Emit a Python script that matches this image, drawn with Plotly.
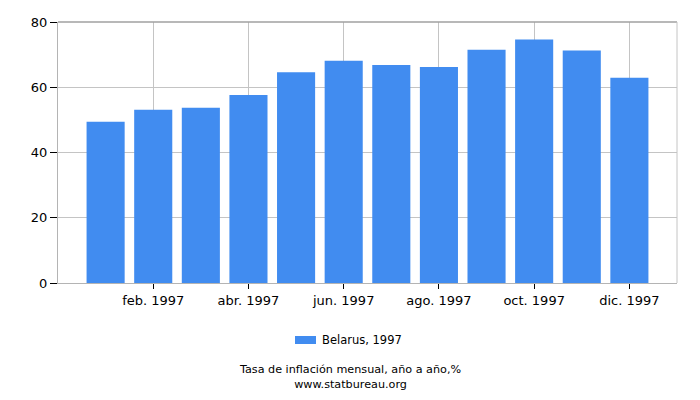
import plotly.graph_objects as go

# ── data ──
months = ["ene. 1997", "feb. 1997", "mar. 1997", "abr. 1997", "may. 1997", "jun. 1997",
          "jul. 1997", "ago. 1997", "sep. 1997", "oct. 1997", "nov. 1997", "dic. 1997"]
inflation = [49.4, 53.1, 53.7, 57.6, 64.6, 68.1, 66.8, 66.2, 71.5, 74.6, 71.3, 62.9]
series_name = "Belarus, 1997"
y_ticks = [0, 20, 40, 60, 80]

FONT = "DejaVu Sans, Verdana, sans-serif"
BAR = "#418cf0"
GRID = "#c4c4c4"
AXIS = "#b4b4b4"

# plot box in pixels: x 58..677, y 22..283
PX_L, PX_R, PX_T, PX_B = 58, 677, 22, 283


def px_x(px):
    return (px - PX_L) / (PX_R - PX_L)


def px_y(py):
    return (PX_B - py) / (PX_B - PX_T)


fig = go.Figure()
fig.add_trace(go.Bar(
    x=months,
    y=inflation,
    name=series_name,
    marker=dict(color=BAR, line=dict(width=0)),
    showlegend=False,
))

fig.update_xaxes(
    type="category",
    range=[-1, 12],
    tickvals=months[1::2],
    ticktext=months[1::2],
    showgrid=True,
    gridcolor=GRID,
    gridwidth=1,
    showline=True,
    linecolor=AXIS,
    linewidth=1,
    ticks="outside",
    ticklen=5,
    tickcolor="black",
    tickfont=dict(family=FONT, size=13, color="black"),
)
fig.update_yaxes(
    range=[0, 80],
    tickvals=y_ticks,
    showgrid=True,
    gridcolor=GRID,
    gridwidth=1,
    zeroline=False,
    showline=True,
    linecolor=AXIS,
    ticks="outside",
    ticklen=7,
    tickcolor="black",
    tickfont=dict(family=FONT, size=13, color="black"),
)

# darker top border and right border of the plot box
fig.add_shape(type="line", xref="paper", yref="paper", x0=0, x1=1, y0=1, y1=1,
              line=dict(color="#a0a0a0", width=1.5))
fig.add_shape(type="line", xref="paper", yref="paper", x0=1, x1=1, y0=0, y1=1,
              line=dict(color=GRID, width=1))

# legend: wide swatch + label
fig.add_shape(type="rect", xref="paper", yref="paper",
              x0=px_x(295), x1=px_x(316), y0=px_y(344), y1=px_y(336),
              fillcolor=BAR, line=dict(width=0))
fig.add_annotation(
    text=series_name, xref="paper", yref="paper",
    x=px_x(320), y=px_y(340), xanchor="left", yanchor="middle",
    showarrow=False, font=dict(family=FONT, size=11.5, color="black"),
)

# caption under the legend (two lines, one text)
fig.add_annotation(
    text="Tasa de inflación mensual, año a año,%<br>www.statbureau.org",
    xref="paper", yref="paper", x=px_x(350), y=px_y(376.5),
    xanchor="center", yanchor="middle", showarrow=False, align="center",
    font=dict(family=FONT, size=11.2, color="black"),
)

fig.update_layout(
    width=700,
    height=400,
    margin=dict(l=PX_L, r=700 - PX_R, t=PX_T, b=400 - PX_B),
    plot_bgcolor="white",
    paper_bgcolor="white",
    bargap=0.2,
    font=dict(family=FONT, size=12, color="black"),
    showlegend=False,
)

fig.write_html("out.html", config={"displayModeBar": False},
               post_script="document.body.style.margin='0';")
